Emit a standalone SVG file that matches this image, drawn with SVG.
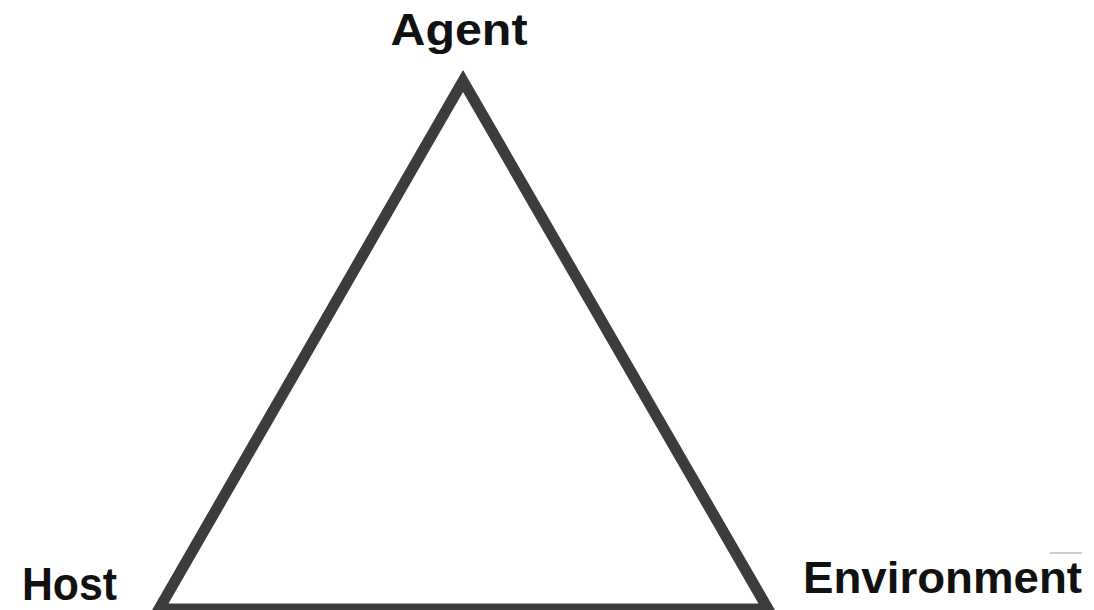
<svg xmlns="http://www.w3.org/2000/svg" width="1094" height="610" viewBox="0 0 1094 610">
  <style>
    .label { font-family: "Liberation Sans", Arial, sans-serif; font-weight: bold; fill: #111; }
    .edge { fill: none; stroke: #3c3c3c; stroke-width: 11; stroke-linejoin: miter; stroke-miterlimit: 10; }
  </style>
  <rect width="1094" height="610" fill="#ffffff"/>
  <!-- triangle linking the three factors -->
  <g id="connectors">
    <polygon class="edge" points="463,81 159,609 768,609"/>
  </g>
  <g id="node-agent">
    <text class="label" x="459" y="45" font-size="45" text-anchor="middle" textLength="137" lengthAdjust="spacingAndGlyphs">Agent</text>
  </g>
  <g id="node-host">
    <text class="label" x="22" y="600" font-size="46" textLength="95" lengthAdjust="spacingAndGlyphs">Host</text>
  </g>
  <g id="node-environment">
    <text class="label" x="803" y="593" font-size="45" textLength="279" lengthAdjust="spacingAndGlyphs">Environment</text>
    <line x1="1050" y1="553" x2="1082" y2="553" stroke="#bbbbbb" stroke-width="1.5"/>
  </g>
</svg>
